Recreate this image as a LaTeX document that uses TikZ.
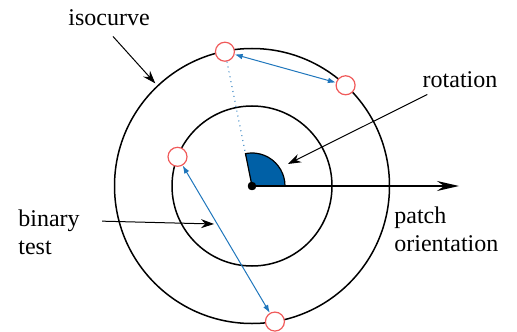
\documentclass[tikz,border=0pt]{standalone}
\usepackage{fontspec}
\setmainfont{Liberation Serif}
\newfontfamily\lblfont{Liberation Serif}
\usetikzlibrary{arrows.meta,positioning,calc}
\definecolor{pairblue}{RGB}{31,118,188}
\definecolor{rotblue}{RGB}{0,96,166}
\definecolor{probered}{RGB}{240,90,90}
\tikzset{%
  % classes
  isoline/.style={draw, line width=0.75pt},
  probe/.style={circle, draw=probered, line width=0.6pt, fill=white, minimum size=9.5pt, inner sep=0pt},
  centre/.style={circle, fill=black, minimum size=4.2pt, inner sep=0pt},
  lbl/.style={align=left, font=\lblfont\fontsize{12}{14}\selectfont, inner sep=0pt},
  % edge styles
  rel/.style={-{Stealth[length=6.5pt,width=4.5pt]}, line width=0.5pt},
  orient/.style={-{Stealth[length=11pt,width=5pt]}, line width=0.75pt},
  pair/.style={{Latex[length=4pt,width=2.8pt]}-{Latex[length=4pt,width=2.8pt]}, pairblue, line width=0.5pt},
  weak/.style={pairblue, dotted, line width=0.5pt},
}

\begin{document}
\begin{tikzpicture}[x=0.5pt, y=-0.5pt]
  \useasboundingbox (0,0) rectangle (517,331);
  \node[centre] (o) at (252,186) {};

  % isocurves
  \draw[isoline] (o.center) circle[radius=68.75pt];
  \draw[isoline] (o.center) circle[radius=40pt];

  % sampling points
  \node[probe] (ptop) at ($(o.center)+(101.4:68.5pt)$) {};
  \node[probe] (pright) at ($(o.center)+(47.1:68.75pt)$) {};
  \node[probe] (pleft) at ($(o.center)+(158.6:40pt)$) {};
  \node[probe] (pbottom) at ($(o.center)+(-80.4:68.75pt)$) {};

  \draw[weak] (ptop) -- (o.center);
  \filldraw[fill=rotblue, draw=black, line width=0.6pt] (o.center) -- ++(0:16.5pt)
    arc[start angle=0, end angle=101.4, radius=16.5pt] -- cycle;
  \coordinate (ohead) at (459,186);
  \draw[orient] (o.center) -- (ohead);
  \node[centre] at (o) {};

  \draw[pair] (ptop) -- (pright);
  \draw[pair] (pleft) -- (pbottom);

  % labels
  \node[lbl] (iso) at (109,18) {isocurve};
  \node[lbl] (rot) at (460,80) {rotation};
  \node[lbl, anchor=west] (bin) at (18,232) {binary\\test};
  \node[lbl, anchor=west] (pat) at (394,229) {patch\\orientation};

  \coordinate (isoend) at ($(o.center)+(133.3:70.5pt)$);
  \coordinate (rotend) at (288,164);
  \coordinate (binend) at (214,224);
  \draw[rel] ([xshift=2pt,yshift=-5pt]iso.south) -- (isoend);
  \draw[rel] ([xshift=2.5pt,yshift=-3pt]rot.south west) -- (rotend);
  \draw[rel] ([xshift=11pt,yshift=-6pt]bin.north east) -- (binend);
\end{tikzpicture}
\end{document}
